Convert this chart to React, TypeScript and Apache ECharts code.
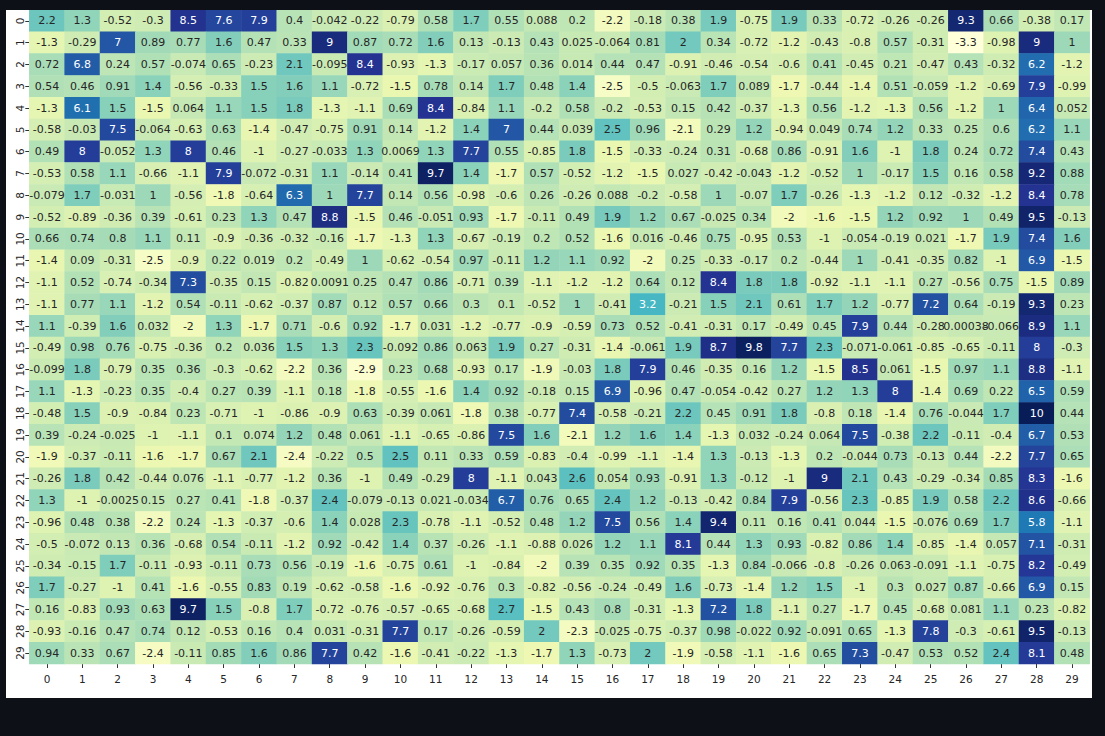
import React, { useEffect, useRef } from 'react';
import * as echarts from 'echarts';

const xLabels = ['0','1','2','3','4','5','6','7','8','9','10','11','12','13','14','15','16','17','18','19','20','21','22','23','24','25','26','27','28','29'];
const yLabels = ['0','1','2','3','4','5','6','7','8','9','10','11','12','13','14','15','16','17','18','19','20','21','22','23','24','25','26','27','28','29'];

const row0 = [2.2, 1.3, -0.52, -0.3, 8.5, 7.6, 7.9, 0.4, -0.042, -0.22, -0.79, 0.58, 1.7, 0.55, 0.088, 0.2, -2.2, -0.18, 0.38, 1.9, -0.75, 1.9, 0.33, -0.72, -0.26, -0.26, 9.3, 0.66, -0.38, 0.17];
const row1 = [-1.3, -0.29, 7, 0.89, 0.77, 1.6, 0.47, 0.33, 9, 0.87, 0.72, 1.6, 0.13, -0.13, 0.43, 0.025, -0.064, 0.81, 2, 0.34, -0.72, -1.2, -0.43, -0.8, 0.57, -0.31, -3.3, -0.98, 9, 1];
const row2 = [0.72, 6.8, 0.24, 0.57, -0.074, 0.65, -0.23, 2.1, -0.095, 8.4, -0.93, -1.3, -0.17, 0.057, 0.36, 0.014, 0.44, 0.47, -0.91, -0.46, -0.54, -0.6, 0.41, -0.45, 0.21, -0.47, 0.43, -0.32, 6.2, -1.2];
const row3 = [0.54, 0.46, 0.91, 1.4, -0.56, -0.33, 1.5, 1.6, 1.1, -0.72, -1.5, 0.78, 0.14, 1.7, 0.48, 1.4, -2.5, -0.5, -0.063, 1.7, 0.089, -1.7, -0.44, -1.4, 0.51, -0.059, -1.2, -0.69, 7.9, -0.99];
const row4 = [-1.3, 6.1, 1.5, -1.5, 0.064, 1.1, 1.5, 1.8, -1.3, -1.1, 0.69, 8.4, -0.84, 1.1, -0.2, 0.58, -0.2, -0.53, 0.15, 0.42, -0.37, -1.3, 0.56, -1.2, -1.3, 0.56, -1.2, 1, 6.4, 0.052];
const row5 = [-0.58, -0.03, 7.5, -0.064, -0.63, 0.63, -1.4, -0.47, -0.75, 0.91, 0.14, -1.2, 1.4, 7, 0.44, 0.039, 2.5, 0.96, -2.1, 0.29, 1.2, -0.94, 0.049, 0.74, 1.2, 0.33, 0.25, 0.6, 6.2, 1.1];
const row6 = [0.49, 8, -0.052, 1.3, 8, 0.46, -1, -0.27, -0.033, 1.3, 0.0069, 1.3, 7.7, 0.55, -0.85, 1.8, -1.5, -0.33, -0.24, 0.31, -0.68, 0.86, -0.91, 1.6, -1, 1.8, 0.24, 0.72, 7.4, 0.43];
const row7 = [-0.53, 0.58, 1.1, -0.66, -1.1, 7.9, -0.072, -0.31, 1.1, -0.14, 0.41, 9.7, 1.4, -1.7, 0.57, -0.52, -1.2, -1.5, 0.027, -0.42, -0.043, -1.2, -0.52, 1, -0.17, 1.5, 0.16, 0.58, 9.2, 0.88];
const row8 = [-0.079, 1.7, -0.031, 1, -0.56, -1.8, -0.64, 6.3, 1, 7.7, 0.14, 0.56, -0.98, -0.6, 0.26, -0.26, 0.088, -0.2, -0.58, 1, -0.07, 1.7, -0.26, -1.3, -1.2, 0.12, -0.32, -1.2, 8.4, 0.78];
const row9 = [-0.52, -0.89, -0.36, 0.39, -0.61, 0.23, 1.3, 0.47, 8.8, -1.5, 0.46, -0.051, 0.93, -1.7, -0.11, 0.49, 1.9, 1.2, 0.67, -0.025, 0.34, -2, -1.6, -1.5, 1.2, 0.92, 1, 0.49, 9.5, -0.13];
const row10 = [0.66, 0.74, 0.8, 1.1, 0.11, -0.9, -0.36, -0.32, -0.16, -1.7, -1.3, 1.3, -0.67, -0.19, 0.2, 0.52, -1.6, 0.016, -0.46, 0.75, -0.95, 0.53, -1, -0.054, -0.19, 0.021, -1.7, 1.9, 7.4, 1.6];
const row11 = [-1.4, 0.09, -0.31, -2.5, -0.9, 0.22, 0.019, 0.2, -0.49, 1, -0.62, -0.54, 0.97, -0.11, 1.2, 1.1, 0.92, -2, 0.25, -0.33, -0.17, 0.2, -0.44, 1, -0.41, -0.35, 0.82, -1, 6.9, -1.5];
const row12 = [-1.1, 0.52, -0.74, -0.34, 7.3, -0.35, 0.15, -0.82, 0.0091, 0.25, 0.47, 0.86, -0.71, 0.39, -1.1, -1.2, -1.2, 0.64, 0.12, 8.4, 1.8, 1.8, -0.92, -1.1, -1.1, 0.27, -0.56, 0.75, -1.5, 0.89];
const row13 = [-1.1, 0.77, 1.1, -1.2, 0.54, -0.11, -0.62, -0.37, 0.87, 0.12, 0.57, 0.66, 0.3, 0.1, -0.52, 1, -0.41, 3.2, -0.21, 1.5, 2.1, 0.61, 1.7, 1.2, -0.77, 7.2, 0.64, -0.19, 9.3, 0.23];
const row14 = [1.1, -0.39, 1.6, 0.032, -2, 1.3, -1.7, 0.71, -0.6, 0.92, -1.7, 0.031, -1.2, -0.77, -0.9, -0.59, 0.73, 0.52, -0.41, -0.31, 0.17, -0.49, 0.45, 7.9, 0.44, -0.28, 0.00038, -0.066, 8.9, 1.1];
const row15 = [-0.49, 0.98, 0.76, -0.75, -0.36, 0.2, 0.036, 1.5, 1.3, 2.3, -0.092, 0.86, 0.063, 1.9, 0.27, -0.31, -1.4, -0.061, 1.9, 8.7, 9.8, 7.7, 2.3, -0.071, -0.061, -0.85, -0.65, -0.11, 8, -0.3];
const row16 = [-0.099, 1.8, -0.79, 0.35, 0.36, -0.3, -0.62, -2.2, 0.36, -2.9, 0.23, 0.68, -0.93, 0.17, -1.9, -0.03, 1.8, 7.9, 0.46, -0.35, 0.16, 1.2, -1.5, 8.5, 0.061, -1.5, 0.97, 1.1, 8.8, -1.1];
const row17 = [1.1, -1.3, -0.23, 0.35, -0.4, 0.27, 0.39, -1.1, 0.18, -1.8, -0.55, -1.6, 1.4, 0.92, -0.18, 0.15, 6.9, -0.96, 0.47, -0.054, -0.42, 0.27, 1.2, 1.3, 8, -1.4, 0.69, 0.22, 6.5, 0.59];
const row18 = [-0.48, 1.5, -0.9, -0.84, 0.23, -0.71, -1, -0.86, -0.9, 0.63, -0.39, 0.061, -1.8, 0.38, -0.77, 7.4, -0.58, -0.21, 2.2, 0.45, 0.91, 1.8, -0.8, 0.18, -1.4, 0.76, -0.044, 1.7, 10, 0.44];
const row19 = [0.39, -0.24, -0.025, -1, -1.1, 0.1, 0.074, 1.2, 0.48, 0.061, -1.1, -0.65, -0.86, 7.5, 1.6, -2.1, 1.2, 1.6, 1.4, -1.3, 0.032, -0.24, 0.064, 7.5, -0.38, 2.2, -0.11, -0.4, 6.7, 0.53];
const row20 = [-1.9, -0.37, -0.11, -1.6, -1.7, 0.67, 2.1, -2.4, -0.22, 0.5, 2.5, 0.11, 0.33, 0.59, -0.83, -0.4, -0.99, -1.1, -1.4, 1.3, -0.13, -1.3, 0.2, -0.044, 0.73, -0.13, 0.44, -2.2, 7.7, 0.65];
const row21 = [-0.26, 1.8, 0.42, -0.44, 0.076, -1.1, -0.77, -1.2, 0.36, -1, 0.49, -0.29, 8, -1.1, 0.043, 2.6, 0.054, 0.93, -0.91, 1.3, -0.12, -1, 9, 2.1, 0.43, -0.29, -0.34, 0.85, 8.3, -1.6];
const row22 = [1.3, -1, -0.0025, 0.15, 0.27, 0.41, -1.8, -0.37, 2.4, -0.079, -0.13, 0.021, -0.034, 6.7, 0.76, 0.65, 2.4, 1.2, -0.13, -0.42, 0.84, 7.9, -0.56, 2.3, -0.85, 1.9, 0.58, 2.2, 8.6, -0.66];
const row23 = [-0.96, 0.48, 0.38, -2.2, 0.24, -1.3, -0.37, -0.6, 1.4, 0.028, 2.3, -0.78, -1.1, -0.52, 0.48, 1.2, 7.5, 0.56, 1.4, 9.4, 0.11, 0.16, 0.41, 0.044, -1.5, -0.076, 0.69, 1.7, 5.8, -1.1];
const row24 = [-0.5, -0.072, 0.13, 0.36, -0.68, 0.54, -0.11, -1.2, 0.92, -0.42, 1.4, 0.37, -0.26, -1.1, -0.88, 0.026, 1.2, 1.1, 8.1, 0.44, 1.3, 0.93, -0.82, 0.86, 1.4, -0.85, -1.4, 0.057, 7.1, -0.31];
const row25 = [-0.34, -0.15, 1.7, -0.11, -0.93, -0.11, 0.73, 0.56, -0.19, -1.6, -0.75, 0.61, -1, -0.84, -2, 0.39, 0.35, 0.92, 0.35, -1.3, 0.84, -0.066, -0.8, -0.26, 0.063, -0.091, -1.1, -0.75, 8.2, -0.49];
const row26 = [1.7, -0.27, -1, 0.41, -1.6, -0.55, 0.83, 0.19, -0.62, -0.58, -1.6, -0.92, -0.76, 0.3, -0.82, -0.56, -0.24, -0.49, 1.6, -0.73, -1.4, 1.2, 1.5, -1, 0.3, 0.027, 0.87, -0.66, 6.9, 0.15];
const row27 = [0.16, -0.83, 0.93, 0.63, 9.7, 1.5, -0.8, 1.7, -0.72, -0.76, -0.57, -0.65, -0.68, 2.7, -1.5, 0.43, 0.8, -0.31, -1.3, 7.2, 1.8, -1.1, 0.27, -1.7, 0.45, -0.68, 0.081, 1.1, 0.23, -0.82];
const row28 = [-0.93, -0.16, 0.47, 0.74, 0.12, -0.53, 0.16, 0.4, 0.031, -0.31, 7.7, 0.17, -0.26, -0.59, 2, -2.3, -0.025, -0.75, -0.37, 0.98, -0.022, 0.92, -0.091, 0.65, -1.3, 7.8, -0.3, -0.61, 9.5, -0.13];
const row29 = [0.94, 0.33, 0.67, -2.4, -0.11, 0.85, 1.6, 0.86, 7.7, 0.42, -1.6, -0.41, -0.22, -1.3, -1.7, 1.3, -0.73, 2, -1.9, -0.58, -1.1, -1.6, 0.65, 7.3, -0.47, 0.53, 0.52, 2.4, 8.1, 0.48];

const matrix = [row0, row1, row2, row3, row4, row5, row6, row7, row8, row9, row10, row11, row12, row13, row14, row15, row16, row17, row18, row19, row20, row21, row22, row23, row24, row25, row26, row27, row28, row29];

const YLGNBU = ['#ffffd9', '#edf8b1', '#c7e9b4', '#7fcdbb', '#41b6c4', '#1d91c0', '#225ea8', '#253494', '#081d58'];

function hexToRgb(h: string) {
  return [parseInt(h.slice(1, 3), 16) / 255, parseInt(h.slice(3, 5), 16) / 255, parseInt(h.slice(5, 7), 16) / 255];
}

function colorFor(v: number, vmin: number, vmax: number) {
  const t = Math.min(Math.max((v - vmin) / (vmax - vmin), 0), 1) * (YLGNBU.length - 1);
  const i = Math.min(Math.floor(t), YLGNBU.length - 2);
  const f = t - i;
  const a = hexToRgb(YLGNBU[i]);
  const b = hexToRgb(YLGNBU[i + 1]);
  return [0, 1, 2].map((k) => a[k] + (b[k] - a[k]) * f);
}

function luminance(rgb: number[]) {
  const lin = rgb.map((c) => (c <= 0.03928 ? c / 12.92 : Math.pow((c + 0.055) / 1.055, 2.4)));
  return 0.2126 * lin[0] + 0.7152 * lin[1] + 0.0722 * lin[2];
}

export default function App() {
  const ref = useRef<HTMLDivElement>(null);
  useEffect(() => {
    if (!ref.current) return;
    const chart = echarts.init(ref.current, null, { renderer: 'svg' });
    const all = matrix.flat();
    const vmin = Math.min(...all);
    const vmax = Math.max(...all);
    const data: any[] = [];
    matrix.forEach((row, i) => {
      row.forEach((v, j) => {
        const lum = luminance(colorFor(v, vmin, vmax));
        data.push({ value: [j, i, v], label: { color: lum > 0.408 ? '#262626' : '#ffffff' } });
      });
    });
    const font = 'DejaVu Sans';
    chart.setOption({
      animation: false,
      backgroundColor: '#ffffff',
      grid: { left: 23.3, top: 0, width: 1060.4, height: 654 },
      xAxis: {
        type: 'category',
        data: xLabels,
        axisLine: { show: false },
        axisTick: { show: true, alignWithLabel: true, length: 4, lineStyle: { color: '#333', width: 1 } },
        axisLabel: { color: '#262626', fontSize: 10.5, fontFamily: font, margin: 9 },
        splitLine: { show: false },
      },
      yAxis: {
        type: 'category',
        data: yLabels,
        inverse: true,
        axisLine: { show: false },
        axisTick: { show: true, alignWithLabel: true, length: 4, lineStyle: { color: '#333', width: 1 } },
        axisLabel: { color: '#262626', fontSize: 10.5, fontFamily: font, margin: 4, rotate: 90 },
        splitLine: { show: false },
      },
      visualMap: {
        show: false,
        type: 'continuous',
        min: vmin,
        max: vmax,
        dimension: 2,
        inRange: { color: YLGNBU },
      },
      series: [
        {
          type: 'heatmap',
          data,
          itemStyle: { borderWidth: 0 },
          label: {
            show: true,
            fontSize: 11,
            fontFamily: font,
            formatter: (p: any) => String(p.value[2]),
          },
          emphasis: { disabled: true },
        },
      ],
    });
    return () => chart.dispose();
  }, []);
  return (
    <div style={{ position: 'absolute', left: 0, top: 0, width: 1105, height: 736, background: '#0d1117' }}>
      <div style={{ position: 'absolute', left: 6, top: 10, width: 1086, height: 688, background: '#ffffff' }}>
        <div ref={ref} style={{ width: 1086, height: 688 }} />
      </div>
    </div>
  );
}
